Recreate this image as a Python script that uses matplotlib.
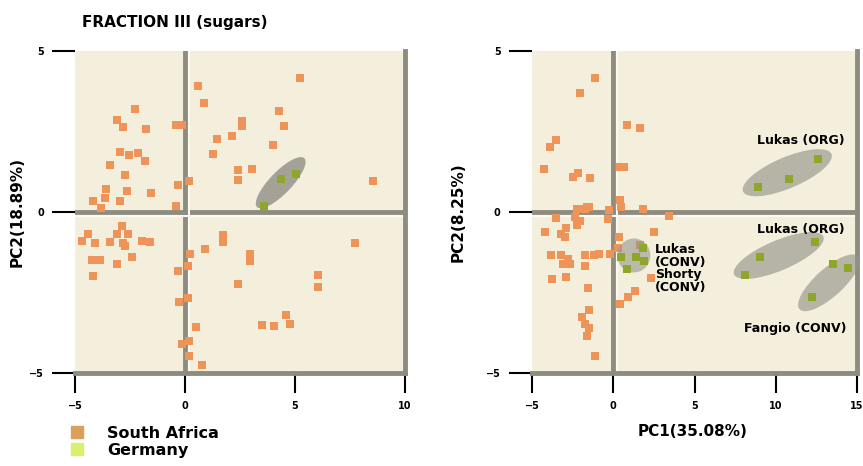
import matplotlib.pyplot as plt
from matplotlib.patches import Ellipse
from matplotlib.lines import Line2D
from matplotlib.transforms import ScaledTranslation, offset_copy

plt.rcParams['font.family'] = 'DejaVu Sans'
plt.rcParams['font.weight'] = 'bold'

# --- data: left panel (Fraction III) ---
left_sa_x = [-2.27, -3.08, -2.80, -1.77, -0.41, -0.15, -2.95, -2.56, -2.15, -1.82, -3.41,
             -2.73, -3.59, -2.62, -1.56, -3.64, -4.20, -2.95, -3.82, -0.30, -0.41,
             0.58, 0.86, 0.18, 1.44, 2.14, 1.29, 2.39, 2.39, 5.23, 4.29, 2.60, 2.60,
             4.51, 3.99, 3.06, 8.56,
             -4.40, -4.70, -4.09, -3.41, -2.88, -3.10, -2.58, -2.80, -2.73, -1.97, -1.59,
             -4.24, -3.86, -3.10, -2.42, -4.17, -0.30, -0.26, -0.15,
             0.23, 0.15, 0.91, 1.74, 1.74, 2.39, 0.15, 0.50, 0.20, 0.20, 0.76, 2.95, 2.95,
             7.73, 6.03, 6.03, 3.49, 4.06, 4.58, 4.77]
left_sa_y = [3.19, 2.85, 2.64, 2.59, 2.70, 2.70, 1.87, 1.77, 1.82, 1.58, 1.46,
             1.15, 0.72, 0.65, 0.60, 0.44, 0.34, 0.35, 0.12, 0.84, 0.19,
             3.90, 3.40, 0.96, 2.27, 2.36, 1.80, 1.29, 0.99, 4.17, 3.13, 2.82, 2.66,
             2.68, 2.09, 1.34, 0.96,
             -0.68, -0.90, -0.96, -0.94, -0.45, -0.68, -0.68, -0.96, -1.07, -0.90, -0.94,
             -1.50, -1.50, -1.63, -1.41, -2.00, -1.82, -2.79, -4.11,
             -1.29, -1.69, -1.15, -0.71, -0.94, -2.25, -2.68, -3.57, -4.02, -4.47, -4.76, -1.29, -1.52,
             -0.96, -1.95, -2.33, -3.52, -3.55, -3.21, -3.49]
left_de_x = [3.59, 4.36, 5.03]
left_de_y = [0.19, 1.01, 1.17]

# --- data: right panel ---
right_sa_x = [-1.13, -2.03, -3.53, -3.91, -4.28, -2.46, -2.20, -1.43, -1.49, -1.71, -0.28, -1.60, -2.24,
              0.87, 1.65, 0.41, 0.65, 0.44, 0.50, 1.86,
              -4.17, -3.53, -3.21, -2.88, -2.99, -2.24, -2.03, -3.85, -3.21, -2.78, -3.10, -2.67,
              -3.74, -2.88, -1.71, -1.71, -1.17, -0.85, -0.21, -1.56, -1.49, -1.92, -1.71, -1.49,
              -1.60, -1.11, -0.32, -2.35,
              0.35, 2.32, 0.41, 0.91, 1.32, 2.53, 3.44, 0.30, 1.62]
right_sa_y = [4.17, 3.69, 2.25, 2.03, 1.34, 1.10, 1.20, 1.07, 0.14, 0.09, 0.05, 0.17, 0.09,
              2.70, 2.61, 1.39, 1.39, 0.36, 0.14, 0.09,
              -0.62, -0.20, -0.68, -0.51, -0.79, -0.40, -0.28, -1.35, -1.35, -1.46, -1.63, -1.63,
              -2.08, -2.03, -1.35, -1.69, -1.35, -1.29, -1.29, -2.36, -3.04, -3.27, -3.49, -3.60,
              -3.85, -4.47, -0.23, -0.17,
              -0.79, -2.06, -2.87, -2.65, -2.46, -0.62, -0.11, -1.13, -1.01]
right_de_x = [12.62, 10.81, 8.89, 12.42, 9.05, 8.12, 13.50, 14.44, 12.22, 0.50, 1.41, 1.92, 0.85, 1.82]
right_de_y = [1.66, 1.03, 0.77, -0.94, -1.41, -1.95, -1.63, -1.75, -2.65, -1.41, -1.41, -1.52, -1.78, -1.13]

# group labels and their positions (x, y)
group_labels = ['Lukas (ORG)', 'Lukas (ORG)', 'Fangio (CONV)', 'Lukas\n(CONV)\nShorty\n(CONV)']
group_pos = [(14.26, 2.21), (14.26, -0.54), (14.38, -3.61), (2.57, -1.76)]

bg = '#f4efdc'
line_c = '#8d8c7f'
orange = '#ef9459'
green = '#8ea72a'
ell_c = '#96958a'

fig = plt.figure(figsize=(8.63, 4.66), dpi=100)
ax1 = fig.add_axes([75 / 863, 1 - 373 / 466, 330 / 863, 322 / 466])
ax2 = fig.add_axes([532 / 863, 1 - 373 / 466, 325 / 863, 322 / 466])


def style(ax, xlim, xticks):
    ax.set_facecolor(bg)
    ax.set_xlim(xlim)
    ax.set_ylim(-5, 5)
    ax.set_xticks(xticks)
    ax.set_yticks([-5, 0, 5])
    ax.spines['top'].set_visible(False)
    ax.spines['left'].set_visible(False)
    for s in ['right', 'bottom']:
        ax.spines[s].set_color(line_c)
        ax.spines[s].set_linewidth(3.5)
    ax.tick_params(axis='y', length=16.5, width=1.5, pad=6, labelsize=7)
    ax.tick_params(axis='x', length=14.5, width=1.5, pad=6, labelsize=7)
    # zero lines with a light gap after them
    ax.axvline(0, color=line_c, lw=3.5, zorder=1.5)
    ax.axhline(0, color=line_c, lw=3.5, zorder=1.5)
    tv = offset_copy(ax.get_xaxis_transform(), fig=fig, x=3.5, y=0, units='dots')
    th = offset_copy(ax.get_yaxis_transform(), fig=fig, x=0, y=-3.5, units='dots')
    ax.plot([0, 0], [0, 1], color='#fbf9f2', lw=1.5, transform=tv, zorder=1.6)
    ax.plot([0, 1], [0, 0], color='#fbf9f2', lw=1.5, transform=th, zorder=1.6)


def ellipse(ax, cx, cy, w, h, ang, alpha=0.75):
    # size in pixels, centre in data
    tr = fig.dpi_scale_trans + ScaledTranslation(cx, cy, ax.transData)
    e = Ellipse((0, 0), w / 100, h / 100, angle=ang, transform=tr,
                facecolor=ell_c, edgecolor='none', alpha=alpha, zorder=3, clip_on=False)
    ax.add_patch(e)


style(ax1, (-5, 10), [-5, 0, 5, 10])
style(ax2, (-5, 15), [-5, 0, 5, 10, 15])

ax1.scatter(left_sa_x, left_sa_y, marker='s', s=34, color=orange, linewidths=0, zorder=2)
ellipse(ax1, 4.35, 0.91, 68, 22, 46, alpha=0.85)
ax1.scatter(left_de_x, left_de_y, marker='s', s=34, color=green, linewidths=0, zorder=4)

ax2.scatter(right_sa_x, right_sa_y, marker='s', s=34, color=orange, linewidths=0, zorder=2)
ellipse(ax2, 1.27, -1.35, 33, 34, 0, alpha=0.6)
ellipse(ax2, 10.71, 1.22, 96, 31, 23, alpha=0.65)
ellipse(ax2, 10.18, -1.35, 97, 30, 23, alpha=0.65)
ellipse(ax2, 13.27, -2.20, 79, 28, 42, alpha=0.65)
ax2.scatter(right_de_x, right_de_y, marker='s', s=34, color=green, linewidths=0, zorder=4)

for lab, (x, y) in zip(group_labels, group_pos):
    ha = 'left' if '\n' in lab else 'right'
    ax2.text(x, y, lab, ha=ha, va='center', fontsize=9, linespacing=0.95, zorder=5)

fig.text(82 / 863, 1 - 22 / 466, 'FRACTION III (sugars)', ha='left', va='center', fontsize=11)
fig.text(17 / 863, 1 - 212 / 466, 'PC2(18.89%)', rotation=90, ha='center', va='center', fontsize=11)
fig.text(458 / 863, 1 - 212 / 466, 'PC2(8.25%)', rotation=90, ha='center', va='center', fontsize=11)
fig.text(693 / 863, 1 - 431 / 466, 'PC1(35.08%)', ha='center', va='center', fontsize=11)

handles = [Line2D([], [], marker='s', ls='', color='#dca05a', markersize=8),
           Line2D([], [], marker='s', ls='', color='#d9f06c', markersize=8)]
fig.legend(handles, ['South Africa', 'Germany'], loc='upper left',
           bbox_to_anchor=(69 / 863, 1 - 426 / 466), frameon=False, fontsize=11.5,
           borderpad=0, borderaxespad=0, handlelength=1.0, handletextpad=1.4,
           labelspacing=0.12)

fig.savefig('out.png', dpi=100)
